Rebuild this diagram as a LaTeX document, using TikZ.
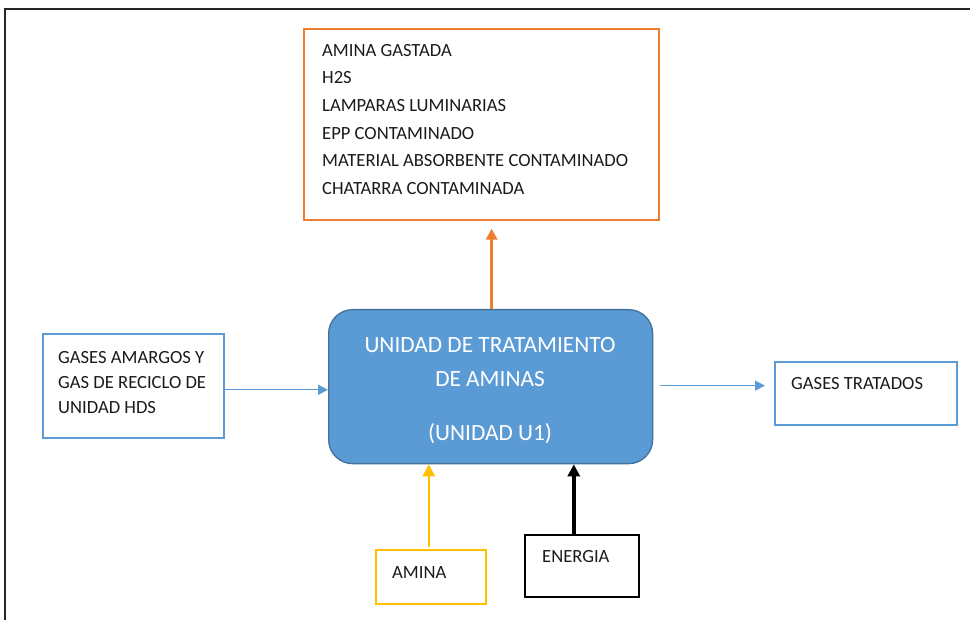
\documentclass[tikz,border=0pt]{standalone}
\usepackage{fontspec}
\setmainfont{Carlito}
\usetikzlibrary{arrows.meta}
\definecolor{mblue}{HTML}{5B9BD5}
\definecolor{mblueborder}{HTML}{41719C}
\definecolor{morange}{HTML}{ED7D31}
\definecolor{myellow}{HTML}{FFC000}
\definecolor{mtext}{HTML}{1A1A1A}
\begin{document}
\begin{tikzpicture}[x=1pt,y=-1pt,
  box/.style={draw,line width=1.6pt,minimum width=#1,inner sep=0pt,anchor=north west},
  lbl/.style={anchor=west,inner sep=0pt,text=mtext,font=\fontsize{18.6}{25}\selectfont,align=left},
  flow/.style={line width=1.3pt,-{Triangle[length=10pt,width=10pt]}},
]
\useasboundingbox (0,0) rectangle (970,620);
% page frame
\draw[line width=1.8pt,black!85] (970,9) -- (5,9) -- (5,620);

% central unit
\node[draw=mblueborder,fill=mblue,line width=1.3pt,rounded corners=24pt,
      minimum width=324pt,minimum height=154pt,inner sep=0pt,anchor=north west]
      (unit) at (328,309) {};
\node[text=white,font=\fontsize{23.3}{34}\selectfont,align=center,anchor=north]
      (unittxt) at (490,334) {UNIDAD DE TRATAMIENTO\\DE AMINAS\\[20pt](UNIDAD U1)};

% wastes
\node[box=355pt,draw=morange,minimum height=191pt] (waste) at (303,28) {};
\node[lbl,anchor=north west,font=\fontsize{18.6}{27.6}\selectfont] (wastetxt) at (322,44)
  {AMINA GASTADA\\H2S\\LAMPARAS LUMINARIAS\\EPP CONTAMINADO\\MATERIAL ABSORBENTE CONTAMINADO\\CHATARRA CONTAMINADA};

% feed gases
\node[box=181pt,draw=mblue,minimum height=104pt] (feed) at (42,333) {};
\node[lbl,anchor=north west] (feedtxt) at (58,351)
  {GASES AMARGOS Y\\GAS DE RECICLO DE\\UNIDAD HDS};

% treated gases
\node[box=182pt,draw=mblue,minimum height=63pt] (treated) at (774,361) {};
\node[lbl] (treatedtxt) at (791,384) {GASES TRATADOS};

% amine feed
\node[box=110pt,draw=myellow,minimum height=54pt] (amine) at (375,549) {};
\node[lbl] (aminetxt) at (392,573) {AMINA};

% energy
\node[box=114pt,draw=black,minimum height=62pt] (energy) at (524,534) {};
\node[lbl] (energytxt) at (542,557) {ENERGIA};

% flows
\draw[flow,draw=mblue,fill=mblue] ([yshift=-4pt]feed.east) -- ([yshift=-4pt]feed.east -| unit.west);
\draw[flow,draw=mblue,fill=mblue,shorten <=7pt,shorten >=9pt] ([yshift=1pt]unit.east) -- ([yshift=1pt]unit.east -| treated.west);
\draw[line width=3pt,draw=morange,-{Triangle[length=11pt,width=11pt]},shorten >=8pt]
  ([xshift=1pt]unit.north) -- ([xshift=1pt]unit.north |- waste.south);
\draw[line width=2.4pt,draw=myellow,-{Triangle[length=12pt,width=12pt]}]
  ([xshift=-2pt,yshift=2pt]amine.north) -- ([xshift=-2pt]amine.north |- unit.south);
\draw[line width=3.4pt,draw=black,-{Triangle[length=12pt,width=12pt]}]
  ([xshift=-8pt]energy.north) -- ([xshift=-8pt]energy.north |- unit.south);
\end{tikzpicture}
\end{document}
